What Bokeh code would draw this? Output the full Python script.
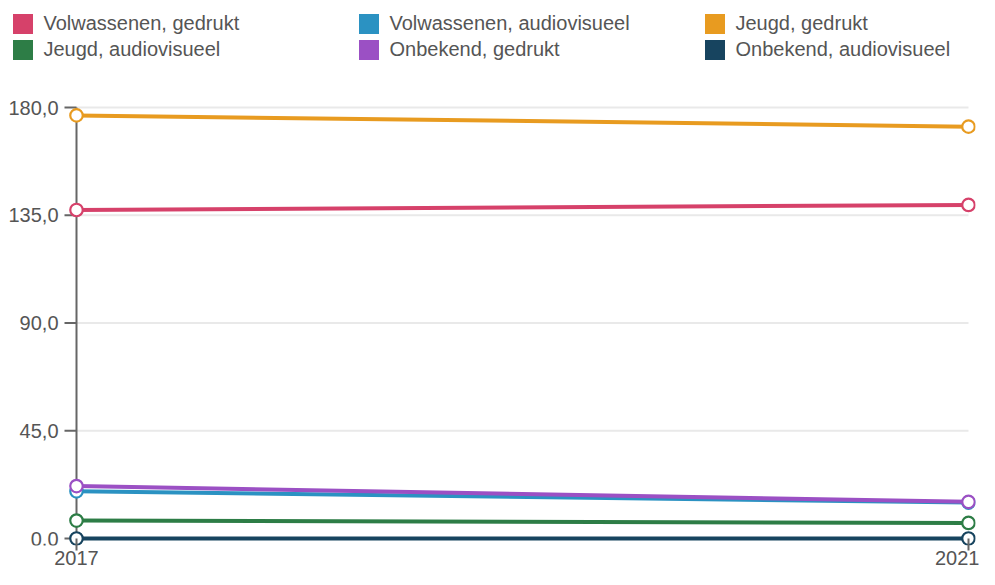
from bokeh.plotting import figure
from bokeh.models import (Range1d, FixedTicker, Legend, LegendItem)
from bokeh.core.properties import value
from bokeh.embed import file_html
from bokeh.resources import INLINE

years = [2017, 2021]
series_names = ["Volwassenen, gedrukt", "Volwassenen, audiovisueel", "Jeugd, gedrukt",
                "Jeugd, audiovisueel", "Onbekend, gedrukt", "Onbekend, audiovisueel"]
volw_gedrukt = [137.2, 139.3]
volw_audio = [19.7, 15.0]
jeugd_gedrukt = [176.7, 172.0]
jeugd_audio = [7.5, 6.5]
onb_gedrukt = [21.9, 15.3]
onb_audio = [0.0, 0.0]
colors = ["#d6416a", "#2b92c2", "#e89b20", "#2d7d46", "#9b50c4", "#17445f"]
y_ticks = [0, 45, 90, 135, 180]
y_tick_labels = ["0,0", "45,0", "90,0", "135,0", "180,0"]
x_ticks = [2017, 2021]

all_series = [volw_gedrukt, volw_audio, jeugd_gedrukt, jeugd_audio, onb_gedrukt, onb_audio]

W, H = 979, 569
font = "Liberation Sans"
gray = "#666666"
txt = "#555555"

# screen layout (px)
x0px, x1px = 76, 968          # 2017 / 2021
y180, y0 = 107, 538           # 180 / 0
frame_r, frame_b = 975, 545
xpx = (x1px - x0px) / (x_ticks[-1] - x_ticks[0])
ypx = (y0 - y180) / 180.0

p = figure(width=W, height=H, output_backend="svg", toolbar_location=None,
           x_range=Range1d(x_ticks[0] - x0px / xpx, x_ticks[-1] + (frame_r - x1px) / xpx),
           y_range=Range1d(-(frame_b - y0) / ypx, 180 + y180 / ypx),
           min_border_left=0, min_border_right=W - frame_r, min_border_top=0,
           min_border_bottom=H - frame_b)
p.outline_line_color = None
p.xgrid.visible = False
p.ygrid.visible = False
p.yaxis.visible = False

p.xaxis.ticker = FixedTicker(ticks=x_ticks)
p.xaxis.axis_line_color = None
p.xaxis.major_tick_in = frame_b - y0
p.xaxis.major_tick_out = 5
p.xaxis.major_tick_line_color = gray
p.xaxis.major_tick_line_width = 2
p.xaxis.minor_tick_line_color = None
p.xaxis.major_label_text_font = font
p.xaxis.major_label_text_font_size = "20px"
p.xaxis.major_label_text_color = txt
p.xaxis.major_label_standoff = 0

# horizontal gridlines
grid_y = [t for t in y_ticks if t > 0]
p.segment(x0=[x_ticks[0]] * len(grid_y), x1=[x_ticks[-1]] * len(grid_y),
          y0=grid_y, y1=grid_y, line_color="#e9e9e9", line_width=2)

# y axis: line, ticks, labels
p.segment(x0=[x_ticks[0]], x1=[x_ticks[0]], y0=[y_ticks[-1]], y1=[p.y_range.start],
          line_color=gray, line_width=2)
p.segment(x0=[x_ticks[0] - 12 / xpx] * len(y_ticks), x1=[x_ticks[0]] * len(y_ticks),
          y0=y_ticks, y1=y_ticks, line_color=gray, line_width=2)
p.text(x=[x_ticks[0]] * len(y_ticks), y=y_ticks, text=y_tick_labels, x_offset=-18,
       text_align="right", text_baseline="middle", text_font=value(font),
       text_font_size="20px", text_color=txt)

items = []
for name, vals, c in zip(series_names, all_series, colors):
    p.line(years, vals, line_color=c, line_width=4)
    p.scatter(years, vals, size=12.5, marker="circle", fill_color="white",
              line_color=c, line_width=2.2)
    dummy = p.quad(left=[0], right=[1], top=[-1000], bottom=[-1001], fill_color=c, line_color=None)
    items.append(LegendItem(label=name, renderers=[dummy]))
ordered = [items[i] for i in (0, 3, 1, 4, 2, 5)]

legend = Legend(items=ordered, ncols=3, location=(9.5, frame_b - 10.5 - 51),
                glyph_width=25, glyph_height=25, label_standoff=9,
                label_width=311, label_height=25, spacing=1, padding=0, margin=0,
                label_text_font=font, label_text_font_size="20px",
                label_text_color=txt, border_line_color=None,
                background_fill_alpha=0)
p.add_layout(legend, "center")

open("out.html", "w").write(file_html(p, INLINE))
